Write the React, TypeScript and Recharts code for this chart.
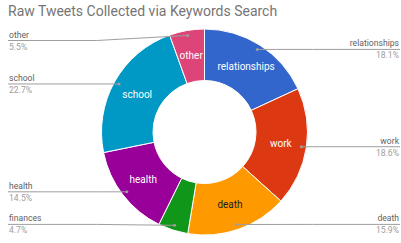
import { Cell, Pie, PieChart } from "recharts";

const CATEGORIES = ["relationships", "work", "death", "finances", "health", "school", "other"];
const SHARES = [18.1, 18.6, 15.9, 4.7, 14.5, 22.7, 5.5];
const COLORS = ["#3366cc", "#dc3912", "#ff9900", "#109618", "#990099", "#0099c6", "#dd4477"];
const INNER_TEXT = ["#ffffff", "#ffffff", "#222222", "#ffffff", "#ffffff", "#ffffff", "#ffffff"];
const SHOW_INNER = [true, true, true, false, true, true, true];

const data = CATEGORIES.map((name, i) => ({ name, value: SHARES[i] }));

const W = 401;
const H = 243;
const RAD = Math.PI / 180;
const FONT = "Roboto, Arial, sans-serif";

interface LabelProps {
  cx: number;
  cy: number;
  midAngle: number;
  innerRadius: number;
  outerRadius: number;
  index: number;
  value: number;
}

function SliceLabel({ cx, cy, midAngle, innerRadius, outerRadius, index, value }: LabelProps) {
  const cos = Math.cos(-midAngle * RAD);
  const sin = Math.sin(-midAngle * RAD);
  const mid = (innerRadius + outerRadius) / 2;
  const ix = cx + mid * cos;
  const iy = cy + mid * sin;

  // leader dot sits just inside the outer edge
  const dr = outerRadius - 5;
  const dx = cx + dr * cos;
  const dy = cy + dr * sin;
  const right = cos >= 0;
  const lineY = Math.min(Math.max(dy, 40.5), 224.4);
  const bendX = right ? cx + outerRadius + 5 : cx - outerRadius - 5;
  const edgeX = right ? W - 1 : 8;
  const textX = right ? W - 2 : 9;
  const anchor = right ? "end" : "start";

  return (
    <g>
      {SHOW_INNER[index] && (
        <text
          x={ix}
          y={iy}
          fill={INNER_TEXT[index]}
          fontSize={10}
          fontFamily={FONT}
          textAnchor="middle"
          dominantBaseline="central"
        >
          {CATEGORIES[index]}
        </text>
      )}
      <polyline
        points={`${dx},${dy} ${bendX},${lineY} ${edgeX},${lineY}`}
        fill="none"
        stroke="#9e9e9e"
        strokeWidth={1}
      />
      <circle cx={dx} cy={dy} r={1.5} fill="#9e9e9e" />
      <text x={textX} y={lineY - 3} fill="#616161" fontSize={8.6} fontFamily={FONT} textAnchor={anchor}>
        {CATEGORIES[index]}
      </text>
      <text x={textX} y={lineY + 9} fill="#9e9e9e" fontSize={8.6} fontFamily={FONT} textAnchor={anchor}>
        {value.toFixed(1)}%
      </text>
    </g>
  );
}

export default function App() {
  return (
    <div style={{ position: "fixed", left: 0, top: 0, width: W, height: H, background: "#fff" }}>
      <div
        style={{
          position: "absolute",
          left: 8,
          top: 1,
          fontFamily: FONT,
          fontSize: 14,
          color: "#757575",
          whiteSpace: "nowrap",
          lineHeight: "20px",
        }}
      >
        Raw Tweets Collected via Keywords Search
      </div>
      <PieChart width={W} height={H} margin={{ top: 0, right: 0, bottom: 0, left: 0 }}>
        <Pie
          data={data}
          dataKey="value"
          nameKey="name"
          cx={204.5}
          cy={132}
          innerRadius={51.5}
          outerRadius={103}
          startAngle={90}
          endAngle={-270}
          stroke="#fff"
          strokeWidth={1}
          labelLine={false}
          label={SliceLabel as any}
          isAnimationActive={false}
        >
          {data.map((d, i) => (
            <Cell key={d.name} fill={COLORS[i]} />
          ))}
        </Pie>
      </PieChart>
    </div>
  );
}
